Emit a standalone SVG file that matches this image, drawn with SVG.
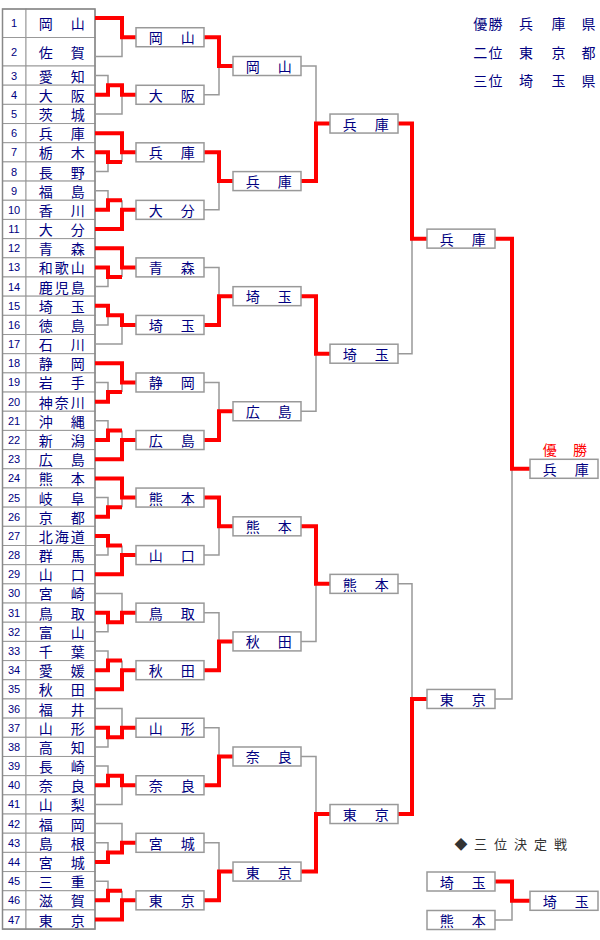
<svg xmlns="http://www.w3.org/2000/svg" width="600" height="940" viewBox="0 0 600 940">
<style>
.cell{fill:#fff;stroke:#999;stroke-width:1}
.box{fill:#fff;stroke:#999;stroke-width:1.5}
.nm{font-family:"Noto Sans CJK JP","Noto Sans CJK SC",sans-serif;font-size:14px;fill:#000080;text-anchor:middle;dominant-baseline:central}
.num{font-family:"Liberation Sans",Arial,sans-serif;font-size:11px;fill:#000080;text-anchor:middle;dominant-baseline:central}
.g{fill:none;stroke:#999;stroke-width:1.5}
.r{fill:none;stroke:#f00;stroke-width:4;stroke-linejoin:miter}
.lg{font-family:"Noto Sans CJK JP",sans-serif;font-size:14px;fill:#000080;text-anchor:middle;dominant-baseline:central}
</style>
<rect width="600" height="940" fill="#fff"/>
<g id="legend">
<text class="lg" x="480.3 495.5 526 558.5 588.5" y="23.3">優勝兵庫県</text>
<text class="lg" x="480.3 495.5 526 558.5 588.5" y="51.7">二位東京都</text>
<text class="lg" x="480.3 495.5 526 558.5 588.5" y="80">三位埼玉県</text>
</g>
<g id="table">
<g id="t1"><rect class="cell" x="2.5" y="9" width="23.5" height="28.5"/><rect class="cell" x="26" y="9" width="69" height="28.5"/><text class="num" x="14" y="23.25">1</text><text class="nm" x="45.7 77.7" y="23.25">岡山</text></g>
<g id="t2"><rect class="cell" x="2.5" y="37.5" width="23.5" height="28.5"/><rect class="cell" x="26" y="37.5" width="69" height="28.5"/><text class="num" x="14" y="51.75">2</text><text class="nm" x="45.7 77.7" y="51.75">佐賀</text></g>
<g id="t3"><rect class="cell" x="2.5" y="66" width="23.5" height="19.18"/><rect class="cell" x="26" y="66" width="69" height="19.18"/><text class="num" x="14" y="75.6">3</text><text class="nm" x="45.7 77.7" y="75.6">愛知</text></g>
<g id="t4"><rect class="cell" x="2.5" y="85.18" width="23.5" height="19.18"/><rect class="cell" x="26" y="85.18" width="69" height="19.18"/><text class="num" x="14" y="94.78">4</text><text class="nm" x="45.7 77.7" y="94.78">大阪</text></g>
<g id="t5"><rect class="cell" x="2.5" y="104.36" width="23.5" height="19.18"/><rect class="cell" x="26" y="104.36" width="69" height="19.18"/><text class="num" x="14" y="113.96">5</text><text class="nm" x="45.7 77.7" y="113.96">茨城</text></g>
<g id="t6"><rect class="cell" x="2.5" y="123.54" width="23.5" height="19.18"/><rect class="cell" x="26" y="123.54" width="69" height="19.18"/><text class="num" x="14" y="133.14">6</text><text class="nm" x="45.7 77.7" y="133.14">兵庫</text></g>
<g id="t7"><rect class="cell" x="2.5" y="142.72" width="23.5" height="19.18"/><rect class="cell" x="26" y="142.72" width="69" height="19.18"/><text class="num" x="14" y="152.32">7</text><text class="nm" x="45.7 77.7" y="152.32">栃木</text></g>
<g id="t8"><rect class="cell" x="2.5" y="161.9" width="23.5" height="19.18"/><rect class="cell" x="26" y="161.9" width="69" height="19.18"/><text class="num" x="14" y="171.5">8</text><text class="nm" x="45.7 77.7" y="171.5">長野</text></g>
<g id="t9"><rect class="cell" x="2.5" y="181.08" width="23.5" height="19.18"/><rect class="cell" x="26" y="181.08" width="69" height="19.18"/><text class="num" x="14" y="190.68">9</text><text class="nm" x="45.7 77.7" y="190.68">福島</text></g>
<g id="t10"><rect class="cell" x="2.5" y="200.26" width="23.5" height="19.18"/><rect class="cell" x="26" y="200.26" width="69" height="19.18"/><text class="num" x="14" y="209.86">10</text><text class="nm" x="45.7 77.7" y="209.86">香川</text></g>
<g id="t11"><rect class="cell" x="2.5" y="219.44" width="23.5" height="19.18"/><rect class="cell" x="26" y="219.44" width="69" height="19.18"/><text class="num" x="14" y="229.04">11</text><text class="nm" x="45.7 77.7" y="229.04">大分</text></g>
<g id="t12"><rect class="cell" x="2.5" y="238.62" width="23.5" height="19.18"/><rect class="cell" x="26" y="238.62" width="69" height="19.18"/><text class="num" x="14" y="248.22">12</text><text class="nm" x="45.7 77.7" y="248.22">青森</text></g>
<g id="t13"><rect class="cell" x="2.5" y="257.8" width="23.5" height="19.18"/><rect class="cell" x="26" y="257.8" width="69" height="19.18"/><text class="num" x="14" y="267.4">13</text><text class="nm" x="45.7 61.7 77.7" y="267.4">和歌山</text></g>
<g id="t14"><rect class="cell" x="2.5" y="276.98" width="23.5" height="19.18"/><rect class="cell" x="26" y="276.98" width="69" height="19.18"/><text class="num" x="14" y="286.58">14</text><text class="nm" x="45.7 61.7 77.7" y="286.58">鹿児島</text></g>
<g id="t15"><rect class="cell" x="2.5" y="296.16" width="23.5" height="19.18"/><rect class="cell" x="26" y="296.16" width="69" height="19.18"/><text class="num" x="14" y="305.76">15</text><text class="nm" x="45.7 77.7" y="305.76">埼玉</text></g>
<g id="t16"><rect class="cell" x="2.5" y="315.34" width="23.5" height="19.18"/><rect class="cell" x="26" y="315.34" width="69" height="19.18"/><text class="num" x="14" y="324.94">16</text><text class="nm" x="45.7 77.7" y="324.94">徳島</text></g>
<g id="t17"><rect class="cell" x="2.5" y="334.52" width="23.5" height="19.18"/><rect class="cell" x="26" y="334.52" width="69" height="19.18"/><text class="num" x="14" y="344.12">17</text><text class="nm" x="45.7 77.7" y="344.12">石川</text></g>
<g id="t18"><rect class="cell" x="2.5" y="353.7" width="23.5" height="19.18"/><rect class="cell" x="26" y="353.7" width="69" height="19.18"/><text class="num" x="14" y="363.3">18</text><text class="nm" x="45.7 77.7" y="363.3">静岡</text></g>
<g id="t19"><rect class="cell" x="2.5" y="372.88" width="23.5" height="19.18"/><rect class="cell" x="26" y="372.88" width="69" height="19.18"/><text class="num" x="14" y="382.48">19</text><text class="nm" x="45.7 77.7" y="382.48">岩手</text></g>
<g id="t20"><rect class="cell" x="2.5" y="392.06" width="23.5" height="19.18"/><rect class="cell" x="26" y="392.06" width="69" height="19.18"/><text class="num" x="14" y="401.66">20</text><text class="nm" x="45.7 61.7 77.7" y="401.66">神奈川</text></g>
<g id="t21"><rect class="cell" x="2.5" y="411.24" width="23.5" height="19.18"/><rect class="cell" x="26" y="411.24" width="69" height="19.18"/><text class="num" x="14" y="420.84">21</text><text class="nm" x="45.7 77.7" y="420.84">沖縄</text></g>
<g id="t22"><rect class="cell" x="2.5" y="430.42" width="23.5" height="19.18"/><rect class="cell" x="26" y="430.42" width="69" height="19.18"/><text class="num" x="14" y="440.02">22</text><text class="nm" x="45.7 77.7" y="440.02">新潟</text></g>
<g id="t23"><rect class="cell" x="2.5" y="449.6" width="23.5" height="19.18"/><rect class="cell" x="26" y="449.6" width="69" height="19.18"/><text class="num" x="14" y="459.2">23</text><text class="nm" x="45.7 77.7" y="459.2">広島</text></g>
<g id="t24"><rect class="cell" x="2.5" y="468.78" width="23.5" height="19.18"/><rect class="cell" x="26" y="468.78" width="69" height="19.18"/><text class="num" x="14" y="478.38">24</text><text class="nm" x="45.7 77.7" y="478.38">熊本</text></g>
<g id="t25"><rect class="cell" x="2.5" y="487.96" width="23.5" height="19.18"/><rect class="cell" x="26" y="487.96" width="69" height="19.18"/><text class="num" x="14" y="497.56">25</text><text class="nm" x="45.7 77.7" y="497.56">岐阜</text></g>
<g id="t26"><rect class="cell" x="2.5" y="507.14" width="23.5" height="19.18"/><rect class="cell" x="26" y="507.14" width="69" height="19.18"/><text class="num" x="14" y="516.74">26</text><text class="nm" x="45.7 77.7" y="516.74">京都</text></g>
<g id="t27"><rect class="cell" x="2.5" y="526.32" width="23.5" height="19.18"/><rect class="cell" x="26" y="526.32" width="69" height="19.18"/><text class="num" x="14" y="535.92">27</text><text class="nm" x="45.7 61.7 77.7" y="535.92">北海道</text></g>
<g id="t28"><rect class="cell" x="2.5" y="545.5" width="23.5" height="19.18"/><rect class="cell" x="26" y="545.5" width="69" height="19.18"/><text class="num" x="14" y="555.1">28</text><text class="nm" x="45.7 77.7" y="555.1">群馬</text></g>
<g id="t29"><rect class="cell" x="2.5" y="564.68" width="23.5" height="19.18"/><rect class="cell" x="26" y="564.68" width="69" height="19.18"/><text class="num" x="14" y="574.28">29</text><text class="nm" x="45.7 77.7" y="574.28">山口</text></g>
<g id="t30"><rect class="cell" x="2.5" y="583.86" width="23.5" height="19.18"/><rect class="cell" x="26" y="583.86" width="69" height="19.18"/><text class="num" x="14" y="593.46">30</text><text class="nm" x="45.7 77.7" y="593.46">宮崎</text></g>
<g id="t31"><rect class="cell" x="2.5" y="603.04" width="23.5" height="19.18"/><rect class="cell" x="26" y="603.04" width="69" height="19.18"/><text class="num" x="14" y="612.64">31</text><text class="nm" x="45.7 77.7" y="612.64">鳥取</text></g>
<g id="t32"><rect class="cell" x="2.5" y="622.22" width="23.5" height="19.18"/><rect class="cell" x="26" y="622.22" width="69" height="19.18"/><text class="num" x="14" y="631.82">32</text><text class="nm" x="45.7 77.7" y="631.82">富山</text></g>
<g id="t33"><rect class="cell" x="2.5" y="641.4" width="23.5" height="19.18"/><rect class="cell" x="26" y="641.4" width="69" height="19.18"/><text class="num" x="14" y="651">33</text><text class="nm" x="45.7 77.7" y="651">千葉</text></g>
<g id="t34"><rect class="cell" x="2.5" y="660.58" width="23.5" height="19.18"/><rect class="cell" x="26" y="660.58" width="69" height="19.18"/><text class="num" x="14" y="670.18">34</text><text class="nm" x="45.7 77.7" y="670.18">愛媛</text></g>
<g id="t35"><rect class="cell" x="2.5" y="679.76" width="23.5" height="19.18"/><rect class="cell" x="26" y="679.76" width="69" height="19.18"/><text class="num" x="14" y="689.36">35</text><text class="nm" x="45.7 77.7" y="689.36">秋田</text></g>
<g id="t36"><rect class="cell" x="2.5" y="698.94" width="23.5" height="19.18"/><rect class="cell" x="26" y="698.94" width="69" height="19.18"/><text class="num" x="14" y="708.54">36</text><text class="nm" x="45.7 77.7" y="708.54">福井</text></g>
<g id="t37"><rect class="cell" x="2.5" y="718.12" width="23.5" height="19.18"/><rect class="cell" x="26" y="718.12" width="69" height="19.18"/><text class="num" x="14" y="727.72">37</text><text class="nm" x="45.7 77.7" y="727.72">山形</text></g>
<g id="t38"><rect class="cell" x="2.5" y="737.3" width="23.5" height="19.18"/><rect class="cell" x="26" y="737.3" width="69" height="19.18"/><text class="num" x="14" y="746.9">38</text><text class="nm" x="45.7 77.7" y="746.9">高知</text></g>
<g id="t39"><rect class="cell" x="2.5" y="756.48" width="23.5" height="19.18"/><rect class="cell" x="26" y="756.48" width="69" height="19.18"/><text class="num" x="14" y="766.08">39</text><text class="nm" x="45.7 77.7" y="766.08">長崎</text></g>
<g id="t40"><rect class="cell" x="2.5" y="775.66" width="23.5" height="19.18"/><rect class="cell" x="26" y="775.66" width="69" height="19.18"/><text class="num" x="14" y="785.26">40</text><text class="nm" x="45.7 77.7" y="785.26">奈良</text></g>
<g id="t41"><rect class="cell" x="2.5" y="794.84" width="23.5" height="19.18"/><rect class="cell" x="26" y="794.84" width="69" height="19.18"/><text class="num" x="14" y="804.44">41</text><text class="nm" x="45.7 77.7" y="804.44">山梨</text></g>
<g id="t42"><rect class="cell" x="2.5" y="814.02" width="23.5" height="19.18"/><rect class="cell" x="26" y="814.02" width="69" height="19.18"/><text class="num" x="14" y="823.62">42</text><text class="nm" x="45.7 77.7" y="823.62">福岡</text></g>
<g id="t43"><rect class="cell" x="2.5" y="833.2" width="23.5" height="19.18"/><rect class="cell" x="26" y="833.2" width="69" height="19.18"/><text class="num" x="14" y="842.8">43</text><text class="nm" x="45.7 77.7" y="842.8">島根</text></g>
<g id="t44"><rect class="cell" x="2.5" y="852.38" width="23.5" height="19.18"/><rect class="cell" x="26" y="852.38" width="69" height="19.18"/><text class="num" x="14" y="861.98">44</text><text class="nm" x="45.7 77.7" y="861.98">宮城</text></g>
<g id="t45"><rect class="cell" x="2.5" y="871.56" width="23.5" height="19.18"/><rect class="cell" x="26" y="871.56" width="69" height="19.18"/><text class="num" x="14" y="881.16">45</text><text class="nm" x="45.7 77.7" y="881.16">三重</text></g>
<g id="t46"><rect class="cell" x="2.5" y="890.74" width="23.5" height="19.18"/><rect class="cell" x="26" y="890.74" width="69" height="19.18"/><text class="num" x="14" y="900.34">46</text><text class="nm" x="45.7 77.7" y="900.34">滋賀</text></g>
<g id="t47"><rect class="cell" x="2.5" y="909.92" width="23.5" height="19.18"/><rect class="cell" x="26" y="909.92" width="69" height="19.18"/><text class="num" x="14" y="919.52">47</text><text class="nm" x="45.7 77.7" y="919.52">東京</text></g>
<rect x="2.5" y="9" width="92.5" height="920.1" fill="none" stroke="#888" stroke-width="1.5"/>
</g>
<g id="connectors">
<path class="g" d="M95 56.42H122V37.24 M95 113.96H122V94.78 M95 75.6H108V85.18 M95 171.5H108V161.9 M122 161.9V152.32 M95 190.68H108V200.26 M122 200.26V209.86 M95 286.58H108V276.98 M122 276.98V267.4 M95 324.94H108V315.34 M95 344.12H122V324.94 M95 382.48H108V392.06 M122 392.06V382.48 M95 420.84H108V430.42 M122 430.42V440.02 M95 497.56H108V507.14 M122 507.14V497.56 M95 555.1H108V545.5 M122 545.5V555.1 M95 631.82H108V622.22 M95 593.46H122V612.64 M95 651H108V660.58 M122 660.58V670.18 M95 746.9H108V737.3 M95 708.54H122V727.72 M95 766.08H108V775.66 M95 804.44H122V785.26 M95 842.8H108V852.38 M95 823.62H122V842.8 M95 881.16H108V890.74 M122 890.74V900.34"/>
<path class="g" d="M204 94.78H219V66.01 M204 209.86H219V181.09 M204 267.4H219V296.17 M204 382.48H219V411.25 M204 555.1H219V526.33 M204 612.64H219V641.41 M204 727.72H219V756.49 M204 842.8H219V871.57"/>
<path class="g" d="M301 66.01H316V123.55 M301 411.25H316V353.71 M301 641.41H316V583.87 M301 756.49H316V814.03"/>
<path class="g" d="M398 353.71H412V238.63 M398 583.87H412V698.95"/>
<path class="g" d="M495 698.95H512V468.79 M495 920H512V900.8"/>
<path class="r" d="M95 18.06H122V37.24H136 M95 94.78H108V85.18H122V94.78H136 M95 133.14H122V152.32H136 M95 152.32H108V161.9H122 M95 209.86H108V200.26H122 M95 229.04H122V209.86H136 M95 248.22H122V267.4H136 M95 267.4H108V276.98H122 M95 305.76H108V315.34H122V324.94H136 M95 363.3H122V382.48H136 M95 401.66H108V392.06H122 M95 440.02H108V430.42H122 M95 459.2H122V440.02H136 M95 478.38H122V497.56H136 M95 516.74H108V507.14H122 M95 535.92H108V545.5H122 M95 574.28H122V555.1H136 M95 612.64H108V622.22H122V612.64H136 M95 670.18H108V660.58H122 M95 689.36H122V670.18H136 M95 727.72H108V737.3H122V727.72H136 M95 785.26H108V775.66H122V785.26H136 M95 861.98H108V852.38H122V842.8H136 M95 900.34H108V890.74H122 M95 919.52H122V900.34H136"/>
<path class="r" d="M204 37.24H219V66.01H233 M204 152.32H219V181.09H233 M204 324.94H219V296.17H233 M204 440.02H219V411.25H233 M204 497.56H219V526.33H233 M204 670.18H219V641.41H233 M204 785.26H219V756.49H233 M204 900.34H219V871.57H233"/>
<path class="r" d="M301 181.09H316V123.55H330 M301 296.17H316V353.71H330 M301 526.33H316V583.87H330 M301 871.57H316V814.03H330"/>
<path class="r" d="M398 123.55H412V238.63H427 M398 814.03H412V698.95H427"/>
<path class="r" d="M495 238.63H512V468.79H530 M495 881.5H512V900.8H530"/>
</g>
<g id="r1">
<g id="r1-0"><rect class="box" x="136" y="27.74" width="68" height="19"/><text class="nm" x="155.7 187.7" y="37.24">岡山</text></g>
<g id="r1-1"><rect class="box" x="136" y="85.28" width="68" height="19"/><text class="nm" x="155.7 187.7" y="94.78">大阪</text></g>
<g id="r1-2"><rect class="box" x="136" y="142.82" width="68" height="19"/><text class="nm" x="155.7 187.7" y="152.32">兵庫</text></g>
<g id="r1-3"><rect class="box" x="136" y="200.36" width="68" height="19"/><text class="nm" x="155.7 187.7" y="209.86">大分</text></g>
<g id="r1-4"><rect class="box" x="136" y="257.9" width="68" height="19"/><text class="nm" x="155.7 187.7" y="267.4">青森</text></g>
<g id="r1-5"><rect class="box" x="136" y="315.44" width="68" height="19"/><text class="nm" x="155.7 187.7" y="324.94">埼玉</text></g>
<g id="r1-6"><rect class="box" x="136" y="372.98" width="68" height="19"/><text class="nm" x="155.7 187.7" y="382.48">静岡</text></g>
<g id="r1-7"><rect class="box" x="136" y="430.52" width="68" height="19"/><text class="nm" x="155.7 187.7" y="440.02">広島</text></g>
<g id="r1-8"><rect class="box" x="136" y="488.06" width="68" height="19"/><text class="nm" x="155.7 187.7" y="497.56">熊本</text></g>
<g id="r1-9"><rect class="box" x="136" y="545.6" width="68" height="19"/><text class="nm" x="155.7 187.7" y="555.1">山口</text></g>
<g id="r1-10"><rect class="box" x="136" y="603.14" width="68" height="19"/><text class="nm" x="155.7 187.7" y="612.64">鳥取</text></g>
<g id="r1-11"><rect class="box" x="136" y="660.68" width="68" height="19"/><text class="nm" x="155.7 187.7" y="670.18">秋田</text></g>
<g id="r1-12"><rect class="box" x="136" y="718.22" width="68" height="19"/><text class="nm" x="155.7 187.7" y="727.72">山形</text></g>
<g id="r1-13"><rect class="box" x="136" y="775.76" width="68" height="19"/><text class="nm" x="155.7 187.7" y="785.26">奈良</text></g>
<g id="r1-14"><rect class="box" x="136" y="833.3" width="68" height="19"/><text class="nm" x="155.7 187.7" y="842.8">宮城</text></g>
<g id="r1-15"><rect class="box" x="136" y="890.84" width="68" height="19"/><text class="nm" x="155.7 187.7" y="900.34">東京</text></g>
</g>
<g id="r2">
<g id="r2-0"><rect class="box" x="233" y="56.51" width="68" height="19"/><text class="nm" x="252.7 284.7" y="66.01">岡山</text></g>
<g id="r2-1"><rect class="box" x="233" y="171.59" width="68" height="19"/><text class="nm" x="252.7 284.7" y="181.09">兵庫</text></g>
<g id="r2-2"><rect class="box" x="233" y="286.67" width="68" height="19"/><text class="nm" x="252.7 284.7" y="296.17">埼玉</text></g>
<g id="r2-3"><rect class="box" x="233" y="401.75" width="68" height="19"/><text class="nm" x="252.7 284.7" y="411.25">広島</text></g>
<g id="r2-4"><rect class="box" x="233" y="516.83" width="68" height="19"/><text class="nm" x="252.7 284.7" y="526.33">熊本</text></g>
<g id="r2-5"><rect class="box" x="233" y="631.91" width="68" height="19"/><text class="nm" x="252.7 284.7" y="641.41">秋田</text></g>
<g id="r2-6"><rect class="box" x="233" y="746.99" width="68" height="19"/><text class="nm" x="252.7 284.7" y="756.49">奈良</text></g>
<g id="r2-7"><rect class="box" x="233" y="862.07" width="68" height="19"/><text class="nm" x="252.7 284.7" y="871.57">東京</text></g>
</g>
<g id="r3">
<g id="r3-0"><rect class="box" x="330" y="114.05" width="68" height="19"/><text class="nm" x="349.7 381.7" y="123.55">兵庫</text></g>
<g id="r3-1"><rect class="box" x="330" y="344.21" width="68" height="19"/><text class="nm" x="349.7 381.7" y="353.71">埼玉</text></g>
<g id="r3-2"><rect class="box" x="330" y="574.37" width="68" height="19"/><text class="nm" x="349.7 381.7" y="583.87">熊本</text></g>
<g id="r3-3"><rect class="box" x="330" y="804.53" width="68" height="19"/><text class="nm" x="349.7 381.7" y="814.03">東京</text></g>
</g>
<g id="r4">
<g id="r4-0"><rect class="box" x="427" y="229.13" width="68" height="19"/><text class="nm" x="446.7 478.7" y="238.63">兵庫</text></g>
<g id="r4-1"><rect class="box" x="427" y="689.45" width="68" height="19"/><text class="nm" x="446.7 478.7" y="698.95">東京</text></g>
</g>
<g id="final">
<text class="nm" x="549.7 580" y="449.3" style="fill:#f00">優勝</text>
<rect class="box" x="530" y="459.29" width="68" height="19"/><text class="nm" x="549.7 581.7" y="468.79">兵庫</text>
</g>
<g id="third">
<text x="461 480.5 500.5 520.5 540.5 560.5" y="843" style="font-family:'Noto Sans CJK JP',sans-serif;font-size:13px;fill:#333;text-anchor:middle;dominant-baseline:central">◆三位決定戦</text>
<g id="third-a"><rect class="box" x="427" y="872" width="68" height="19"/><text class="nm" x="446.7 478.7" y="881.5">埼玉</text></g>
<g id="third-b"><rect class="box" x="427" y="910.5" width="68" height="19"/><text class="nm" x="446.7 478.7" y="920">熊本</text></g>
<g id="third-w"><rect class="box" x="530" y="891.3" width="68" height="19"/><text class="nm" x="549.7 581.7" y="900.8">埼玉</text></g>
</g>
</svg>
